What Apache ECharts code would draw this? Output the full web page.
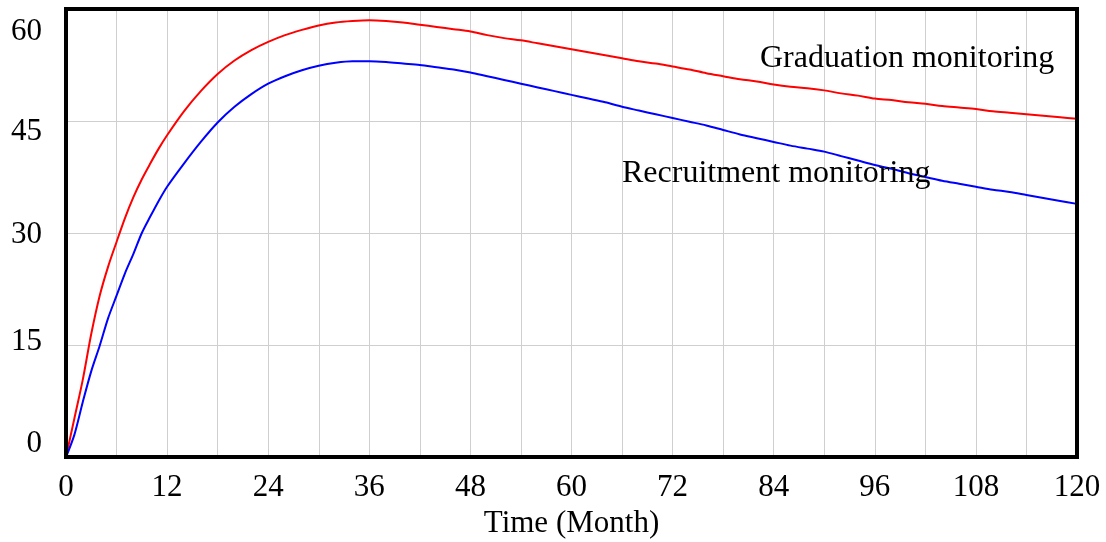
<!DOCTYPE html>
<html>
<head>
<meta charset="utf-8">
<script src="https://cdn.jsdelivr.net/npm/echarts@6/dist/echarts.min.js"></script>
<style>
  html, body { margin: 0; padding: 0; background: #fff; }
  #chart { width: 1106px; height: 542px; }
</style>
</head>
<body>
<div id="chart"></div>
<script>
// time axis (months)
var months = [0, 1, 2, 3, 4, 5, 6, 7, 8, 9, 10, 11, 12,
  14, 16, 18, 20, 22, 24, 26, 28, 30, 32, 34, 36, 38, 40, 42, 44, 46, 48,
  50, 52, 54, 56, 58, 60, 62, 64, 66, 68, 70, 72, 74, 76, 78, 80, 82, 84,
  86, 88, 90, 92, 94, 96, 98, 100, 102, 104, 106, 108, 110, 112, 114, 116, 118, 120];

// Graduation monitoring (red)
var graduation = [0, 5.2, 10.4, 16.5, 21.6, 25.5, 28.8, 32.0, 34.8, 37.2, 39.3, 41.3, 43.1,
  46.3, 49.0, 51.3, 53.1, 54.5, 55.6, 56.5, 57.2, 57.8, 58.2, 58.4, 58.5, 58.4, 58.2, 57.9, 57.6, 57.3, 57.0,
  56.5, 56.1, 55.8, 55.4, 55.0, 54.6, 54.2, 53.8, 53.4, 53.0, 52.7, 52.3, 51.9, 51.4, 51.0, 50.6, 50.3, 49.9,
  49.6, 49.4, 49.1, 48.7, 48.4, 48.0, 47.8, 47.5, 47.3, 47.0, 46.8, 46.6, 46.3, 46.1, 45.9, 45.7, 45.5, 45.3];

// Recruitment monitoring (blue)
var recruitment = [0, 3.0, 7.4, 11.5, 14.9, 18.6, 21.6, 24.6, 27.2, 30.0, 32.2, 34.3, 36.2,
  39.3, 42.2, 44.8, 46.9, 48.6, 50.0, 51.0, 51.8, 52.4, 52.8, 53.0, 53.0, 52.9, 52.7, 52.5, 52.2, 51.9, 51.5,
  51.0, 50.5, 50.0, 49.5, 49.0, 48.5, 48.0, 47.5, 46.9, 46.4, 45.9, 45.4, 44.9, 44.4, 43.8, 43.2, 42.7, 42.2,
  41.7, 41.3, 40.9, 40.3, 39.7, 39.1, 38.6, 38.0, 37.5, 37.0, 36.6, 36.2, 35.8, 35.5, 35.1, 34.7, 34.3, 33.9];

var seriesNames = ['Graduation monitoring', 'Recruitment monitoring'];
var xTicks = [0, 12, 24, 36, 48, 60, 72, 84, 96, 108, 120];
var yTicks = [0, 15, 30, 45, 60];

var FONT = '"Liberation Serif", "Times New Roman", serif';

function pairs(ys) {
  var out = [];
  for (var i = 0; i < months.length; i++) out.push([months[i], ys[i]]);
  return out;
}

var chart = echarts.init(document.getElementById('chart'), null, { renderer: 'canvas' });

var option = {
  backgroundColor: '#fff',
  animation: false,
  grid: {
    left: 66, right: 29, top: 9, bottom: 85,
    outerBoundsMode: 'none',
    containLabel: false,
    show: true,
    borderColor: '#000',
    borderWidth: 4,
    backgroundColor: 'transparent',
    z: 3
  },
  xAxis: {
    type: 'value',
    min: xTicks[0],
    max: xTicks[xTicks.length - 1],
    interval: 12,
    name: 'Time (Month)',
    nameLocation: 'middle',
    nameGap: 51,
    nameTextStyle: { color: '#000', fontSize: 31, fontFamily: FONT },
    axisLine: { show: false },
    axisTick: { show: false },
    axisLabel: { color: '#000', fontSize: 31, fontFamily: FONT, margin: 15 },
    splitLine: { show: true, lineStyle: { color: '#cfcfcf', width: 1 } },
    minorTick: { show: false, splitNumber: 2 },
    minorSplitLine: { show: true, lineStyle: { color: '#cfcfcf', width: 1 } }
  },
  yAxis: {
    type: 'value',
    min: yTicks[0],
    max: yTicks[yTicks.length - 1],
    interval: 15,
    axisLine: { show: false },
    axisTick: { show: false },
    splitLine: { show: true, lineStyle: { color: '#cfcfcf', width: 1 } },
    axisLabel: {
      color: '#000', fontSize: 31, fontFamily: FONT, margin: 24,
      formatter: function (v) { return '{l' + v + '|' + v + '}'; },
      rich: {
        l60: { fontSize: 31, fontFamily: FONT, padding: [46, 0, 0, 0] },
        l45: { fontSize: 31, fontFamily: FONT, padding: [22, 0, 0, 0] },
        l30: { fontSize: 31, fontFamily: FONT, padding: [4, 0, 0, 0] },
        l15: { fontSize: 31, fontFamily: FONT, padding: [0, 0, 6, 0] },
        l0: { fontSize: 31, fontFamily: FONT, padding: [0, 0, 26, 0] }
      }
    }
  },
  series: [
    {
      name: seriesNames[0],
      type: 'line',
      data: pairs(graduation),
      showSymbol: false,
      smooth: 0.3,
      lineStyle: { color: '#ff0000', width: 2 },
      itemStyle: { color: '#ff0000' },
      z: 2
    },
    {
      name: seriesNames[1],
      type: 'line',
      data: pairs(recruitment),
      showSymbol: false,
      smooth: 0.3,
      lineStyle: { color: '#0000ff', width: 2 },
      itemStyle: { color: '#0000ff' },
      z: 2
    }
  ],
  graphic: [
    {
      type: 'text', x: 760, y: 59, z: 10,
      style: { text: seriesNames[0], fill: '#000', font: '32px ' + FONT, verticalAlign: 'middle', align: 'left' }
    },
    {
      type: 'text', x: 622, y: 174, z: 10,
      style: { text: seriesNames[1], fill: '#000', font: '32px ' + FONT, verticalAlign: 'middle', align: 'left' }
    }
  ]
};

chart.setOption(option);
</script>
</body>
</html>
